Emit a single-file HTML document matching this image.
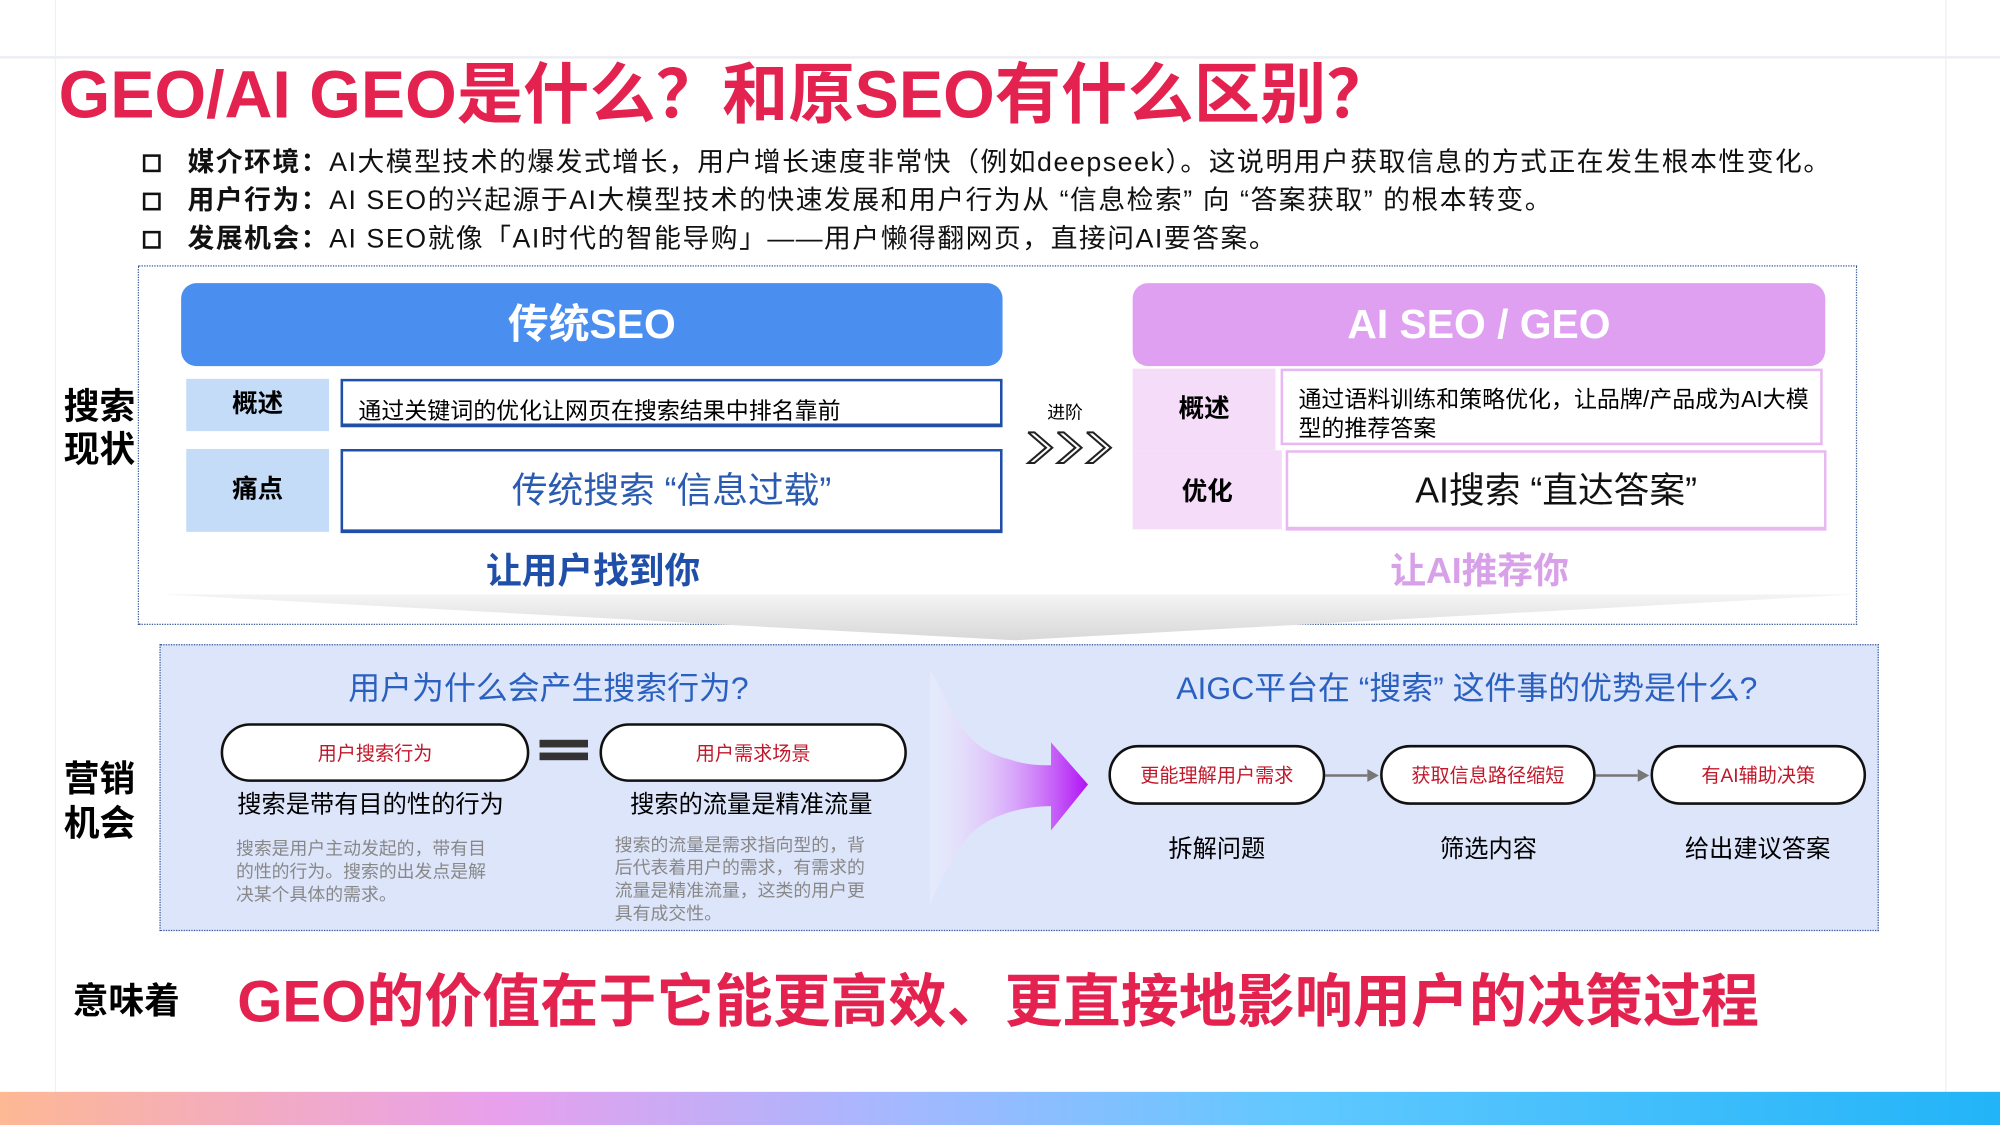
<!DOCTYPE html>
<html><head><meta charset="utf-8"><style>
*{margin:0;padding:0;box-sizing:border-box}
html,body{width:2000px;height:1125px;overflow:hidden;background:#fff}
#w{position:absolute;left:0;top:0;width:1568px;height:882px;transform:scale(1.27551);transform-origin:0 0;font-family:"Liberation Sans","Noto Sans CJK SC",sans-serif}
.a{position:absolute;white-space:nowrap}
.c{text-align:center}
.pill{position:absolute;border:2.5px solid #111;border-radius:24px;background:#fff;color:#c0182a;font-size:15px;display:flex;align-items:center;justify-content:center}
</style></head><body><div id="w">
<div class="a" style="left:0;top:44px;width:1568px;height:2px;background:#eceef4"></div>
<div class="a" style="left:43px;top:0;width:1px;height:856px;background:#eef0f5"></div>
<div class="a" style="left:1525px;top:0;width:1px;height:856px;background:#eef0f5"></div>

<div class="a" style="left:46px;top:42px;font-size:52px;font-weight:bold;color:#e3224f;line-height:66px">GEO/AI GEO是什么？和原SEO有什么区别？</div>

<div class="a" style="left:112px;top:115px;font-size:21px;letter-spacing:1.2px;line-height:26px;color:#111">
<div><span style="display:inline-block;width:14px;height:14px;border:2.5px solid #111;margin-right:21px;vertical-align:-1px"></span><b>媒介环境：</b>AI大模型技术的爆发式增长，用户增长速度非常快（例如deepseek）。这说明用户获取信息的方式正在发生根本性变化。</div>
<div style="margin-top:4px"><span style="display:inline-block;width:14px;height:14px;border:2.5px solid #111;margin-right:21px;vertical-align:-1px"></span><b>用户行为：</b>AI SEO的兴起源于AI大模型技术的快速发展和用户行为从 “信息检索” 向 “答案获取” 的根本转变。</div>
<div style="margin-top:4px"><span style="display:inline-block;width:14px;height:14px;border:2.5px solid #111;margin-right:21px;vertical-align:-1px"></span><b>发展机会：</b>AI SEO就像「AI时代的智能导购」——用户懒得翻网页，直接问AI要答案。</div>
</div>

<div class="a" style="left:108px;top:208px;width:1348px;height:282px;border:1.5px dotted #3a5a9a"></div>
<svg class="a" style="left:0;top:0" width="1568" height="882"><defs><linearGradient id="g1" x1="0" y1="0" x2="0" y2="1"><stop offset="0" stop-color="#f4f4f4"/><stop offset="1" stop-color="#d8d8d8"/></linearGradient>
<linearGradient id="g2" x1="0" y1="0" x2="1" y2="0"><stop offset="0" stop-color="#fff" stop-opacity=".2"/><stop offset="1" stop-color="#b010f5"/></linearGradient></defs>
<polygon points="128,466 1455,466 795,502" fill="url(#g1)"/>
<g fill="none" stroke="#222" stroke-width="1.6">
<polyline points="806,339 820,351 806,363 811,363 825,351 811,339 806,339"/>
<polyline points="829,339 843,351 829,363 834,363 848,351 834,339 829,339"/>
<polyline points="852,339 866,351 852,363 857,363 871,351 857,339 852,339"/>
</g>
</svg>

<div class="a c" style="left:142px;top:222px;width:644px;height:65px;background:#4a8ff0;border-radius:12px;color:#fff;font-size:32px;font-weight:bold;line-height:65px">传统SEO</div>
<div class="a c" style="left:888px;top:222px;width:543px;height:65px;background:#e0a0f2;border-radius:12px;color:#fff;font-size:32px;font-weight:bold;line-height:65px">AI SEO / GEO</div>

<div class="a c" style="left:146px;top:297px;width:112px;height:41px;background:#c5dcf8;font-size:20px;font-weight:bold;line-height:41px">概述</div>
<div class="a" style="left:267px;top:297px;width:519px;height:38px;border:2px solid #1f4fa8;border-bottom-width:3px;font-size:18px;line-height:46px;padding-left:12px">通过关键词的优化让网页在搜索结果中排名靠前</div>
<div class="a c" style="left:146px;top:352px;width:112px;height:65px;background:#c5dcf8;font-size:20px;font-weight:bold;line-height:65px">痛点</div>
<div class="a c" style="left:267px;top:352px;width:519px;height:66px;border:2px solid #1f4fa8;border-bottom-width:3px;font-size:28px;color:#2a5bb0;line-height:62px">传统搜索 “信息过载”</div>
<div class="a c" style="left:300px;top:428px;width:330px;font-size:28px;font-weight:bold;color:#1f4fa8;line-height:40px">让用户找到你</div>

<div class="a" style="left:821px;top:313px;font-size:14px">进阶</div>

<div class="a c" style="left:888px;top:289px;width:112px;height:64px;background:#f5dcf8;font-size:20px;font-weight:bold;line-height:64px">概述</div>
<div class="a" style="left:1004px;top:289px;width:425px;height:60px;border:2px solid #e8b8f0;font-size:18px;line-height:23px;padding:11px 0 0 12px;white-space:normal">通过语料训练和策略优化，让品牌/产品成为AI大模型的推荐答案</div>
<div class="a c" style="left:888px;top:353px;width:117px;height:62px;background:#f5dcf8;font-size:20px;font-weight:bold;line-height:66px">优化</div>
<div class="a c" style="left:1008px;top:353px;width:424px;height:63px;border:2px solid #e8b8f0;border-bottom-width:3px;font-size:28px;color:#111;line-height:60px">AI搜索 “直达答案”</div>
<div class="a c" style="left:1000px;top:428px;width:320px;font-size:28px;font-weight:bold;color:#d8a0e8;line-height:40px">让AI推荐你</div>

<div class="a" style="left:50px;top:302px;font-size:28px;font-weight:bold;line-height:34px">搜索<br>现状</div>

<div class="a" style="left:125px;top:505px;width:1348px;height:225px;background:#dde5fa;border:1.5px dotted #3a5a9a"></div>
<svg class="a" style="left:0;top:0" width="1568" height="882">
<path d="M729,525 C748,555 752,585 790,595 C805,600 815,600 824,600 L824,582 L853,615 L824,651 L824,632 C800,632 770,640 756,660 C745,675 735,695 729,710 Z" fill="url(#g2)"/>
<line x1="1039" y1="608" x2="1072" y2="608" stroke="#777" stroke-width="2"/><polygon points="1072,603 1081,608 1072,613" fill="#777"/>
<line x1="1251" y1="608" x2="1284" y2="608" stroke="#777" stroke-width="2"/><polygon points="1284,603 1293,608 1284,613" fill="#777"/>
</svg>

<div class="a c" style="left:230px;top:523px;width:400px;font-size:25px;color:#2a60c0;line-height:34px">用户为什么会产生搜索行为?</div>
<div class="a c" style="left:880px;top:523px;width:540px;font-size:25px;color:#2a60c0;line-height:34px">AIGC平台在 “搜索” 这件事的优势是什么?</div>

<div class="pill" style="left:173px;top:567px;width:242px;height:46px">用户搜索行为</div>
<div class="a" style="left:423px;top:580px;width:38px;height:6px;background:#333"></div>
<div class="a" style="left:423px;top:590px;width:38px;height:6px;background:#333"></div>
<div class="pill" style="left:470px;top:567px;width:241px;height:46px">用户需求场景</div>
<div class="a" style="left:186px;top:619px;font-size:19px;line-height:26px">搜索是带有目的性的行为</div>
<div class="a" style="left:494px;top:619px;font-size:19px;line-height:26px">搜索的流量是精准流量</div>
<div class="a" style="left:185px;top:656px;width:206px;font-size:14px;line-height:18px;color:#888;white-space:normal">搜索是用户主动发起的，带有目的性的行为。搜索的出发点是解决某个具体的需求。</div>
<div class="a" style="left:482px;top:653px;width:208px;font-size:14px;line-height:18px;color:#888;white-space:normal">搜索的流量是需求指向型的，背后代表着用户的需求，有需求的流量是精准流量，这类的用户更具有成交性。</div>

<div class="pill" style="left:869px;top:584px;width:170px;height:47px">更能理解用户需求</div>
<div class="pill" style="left:1082px;top:584px;width:169px;height:47px">获取信息路径缩短</div>
<div class="pill" style="left:1294px;top:584px;width:169px;height:47px">有AI辅助决策</div>
<div class="a c" style="left:874px;top:654px;width:160px;font-size:19px;line-height:26px">拆解问题</div>
<div class="a c" style="left:1087px;top:654px;width:160px;font-size:19px;line-height:26px">筛选内容</div>
<div class="a c" style="left:1298px;top:654px;width:160px;font-size:19px;line-height:26px">给出建议答案</div>

<div class="a" style="left:50px;top:593px;font-size:28px;font-weight:bold;line-height:35px">营销<br>机会</div>

<div class="a" style="left:57px;top:767px;font-size:28px;font-weight:bold;line-height:36px">意味着</div>
<div class="a" style="left:186px;top:757px;font-size:45.5px;font-weight:bold;color:#e3224f;line-height:58px">GEO的价值在于它能更高效、更直接地影响用户的决策过程</div>

<div class="a" style="left:0;top:856px;width:1568px;height:26px;background:linear-gradient(90deg,#fdb894 0%,#e8a0ec 25%,#a4b8ff 45%,#60c8ff 65%,#22b4f8 100%)"></div>
</div></body></html>
